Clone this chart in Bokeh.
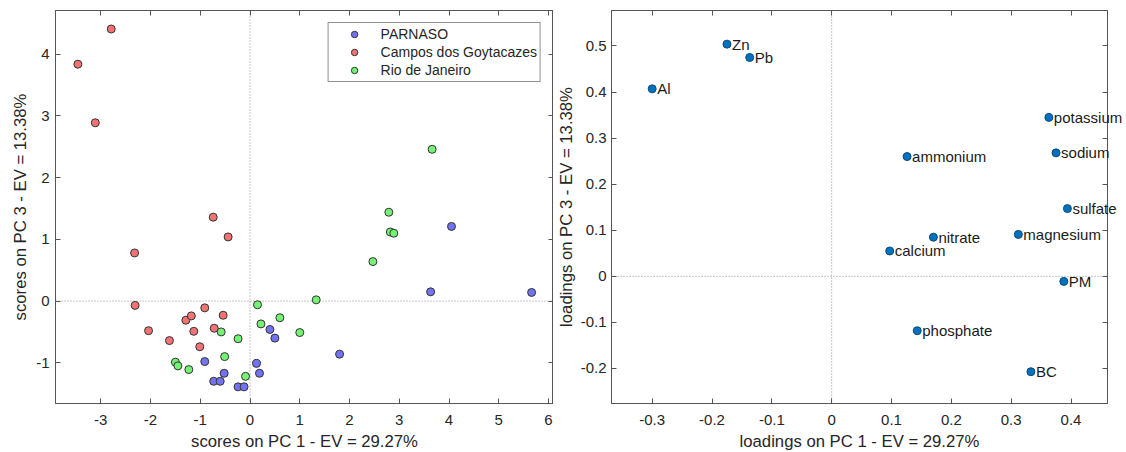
from bokeh.plotting import figure
from bokeh.layouts import row
from bokeh.models import (Range1d, LinearAxis, FixedTicker, PrintfTickFormatter,
                          Span, ColumnDataSource)
from bokeh.core.properties import value
from bokeh.embed import file_html
from bokeh.resources import INLINE

# ---------------- data ----------------
parnaso_x = [4.05, 3.63, 5.66, 1.80, 0.40, 0.50, 0.13, 0.19, -0.91, -0.52, -0.73, -0.60, -0.24, -0.12]
parnaso_y = [1.21, 0.15, 0.14, -0.86, -0.46, -0.60, -1.01, -1.17, -0.98, -1.17, -1.30, -1.30, -1.39, -1.39]

campos_x = [-2.79, -3.46, -3.11, -0.74, -0.44, -2.32, -2.31, -2.04, -1.62, -1.29, -1.18, -0.91, -0.54, -1.13, -0.72, -1.01]
campos_y = [4.41, 3.84, 2.89, 1.36, 1.04, 0.78, -0.07, -0.48, -0.64, -0.31, -0.24, -0.11, -0.23, -0.49, -0.44, -0.74]

rio_x = [3.66, 2.79, 2.82, 2.89, 2.47, 1.33, 0.15, 0.22, 0.60, 1.00, -0.58, -0.24, -0.51, -1.50, -1.45, -1.23, -0.09]
rio_y = [2.46, 1.44, 1.12, 1.10, 0.64, 0.02, -0.06, -0.37, -0.27, -0.51, -0.50, -0.61, -0.90, -0.99, -1.05, -1.11, -1.22]

load_names = ["Al", "Zn", "Pb", "potassium", "sodium", "ammonium", "sulfate", "nitrate",
              "magnesium", "calcium", "PM", "phosphate", "BC"]
load_x = [-0.300, -0.175, -0.137, 0.363, 0.375, 0.126, 0.394, 0.170, 0.312, 0.097, 0.388, 0.143, 0.333]
load_y = [0.407, 0.504, 0.475, 0.345, 0.268, 0.260, 0.147, 0.085, 0.091, 0.055, -0.011, -0.118, -0.207]

scores_xticks = [-3, -2, -1, 0, 1, 2, 3, 4, 5, 6]
scores_yticks = [-1, 0, 1, 2, 3, 4]
load_xticks = [-0.3, -0.2, -0.1, 0, 0.1, 0.2, 0.3, 0.4]
load_yticks = [-0.2, -0.1, 0, 0.1, 0.2, 0.3, 0.4, 0.5]

FONT = "Liberation Sans"
TXT = "#262626"
AX = "#555555"


def style(p, xticks, yticks, xlabel, ylabel, tick_standoff_y, lab_standoff_y):
    p.xaxis.visible = False
    p.yaxis.visible = False
    for loc, ticks, lab in (("below", xticks, xlabel), ("left", yticks, ylabel),
                            ("above", xticks, None), ("right", yticks, None)):
        ax = LinearAxis(ticker=FixedTicker(ticks=ticks),
                        formatter=PrintfTickFormatter(format="%g"))
        ax.major_tick_in = 5
        ax.major_tick_out = 0
        ax.minor_tick_line_color = None
        ax.axis_line_color = AX
        ax.major_tick_line_color = AX
        ax.major_label_text_font = FONT
        ax.major_label_text_color = TXT
        if lab is None:
            ax.major_label_text_font_size = "0px"
            ax.major_label_text_color = None
            ax.major_label_standoff = 0
            ax.axis_label = None
        else:
            ax.major_label_text_font_size = "15px"
            ax.axis_label = lab
            ax.axis_label_text_font = FONT
            ax.axis_label_text_font_size = "16.7px"
            ax.axis_label_text_font_style = "normal"
            ax.axis_label_text_color = TXT
            if loc == "below":
                ax.major_label_standoff = 11
                ax.axis_label_standoff = 4
            else:
                ax.major_label_standoff = tick_standoff_y
                ax.axis_label_standoff = lab_standoff_y
        p.add_layout(ax, loc)
    p.outline_line_color = AX
    p.outline_line_width = 1
    p.grid.visible = False
    p.add_layout(Span(location=0, dimension="height", line_color="#8c8c8c",
                      line_dash="1 2", line_width=1, level="underlay"))
    p.add_layout(Span(location=0, dimension="width", line_color="#8c8c8c",
                      line_dash="1 2", line_width=1, level="underlay"))


# ---------------- scores ----------------
p1 = figure(frame_width=498, frame_height=393,
            x_range=Range1d(-3.91, 6.10), y_range=Range1d(-1.66, 4.71),
            output_backend="svg", toolbar_location=None,
            min_border_left=55, min_border_right=0, min_border_top=10, min_border_bottom=47,
            background_fill_color="white", border_fill_color="white")
style(p1, scores_xticks, scores_yticks,
      "scores on PC 1 - EV = 29.27%", "scores on PC 3 - EV = 13.38%", 6, 3)

p1.scatter(parnaso_x, parnaso_y, marker="circle", size=8, fill_color="#7373F2",
           line_color="#333333", line_width=1, legend_label="PARNASO")
p1.scatter(campos_x, campos_y, marker="circle", size=8, fill_color="#F27373",
           line_color="#333333", line_width=1, legend_label="Campos dos Goytacazes")
p1.scatter(rio_x, rio_y, marker="circle", size=8, fill_color="#73F273",
           line_color="#333333", line_width=1, legend_label="Rio de Janeiro")

lg = p1.legend[0]
lg.location = "top_right"
lg.margin = 12
lg.padding = 3
lg.spacing = 2
lg.glyph_width = 45
lg.glyph_height = 16
lg.label_height = 16
lg.label_standoff = 4
lg.label_text_font = FONT
lg.label_text_font_size = "14px"
lg.label_text_color = TXT
lg.border_line_color = "#262626"
lg.border_line_width = 1
lg.background_fill_color = "white"
lg.background_fill_alpha = 1.0

# ---------------- loadings ----------------
p2 = figure(frame_width=496, frame_height=393,
            x_range=Range1d(-0.368, 0.461), y_range=Range1d(-0.276, 0.577),
            output_backend="svg", toolbar_location=None,
            min_border_left=57, min_border_right=16, min_border_top=10, min_border_bottom=47,
            background_fill_color="white", border_fill_color="white")
style(p2, load_xticks, load_yticks,
      "loadings on PC 1 - EV = 29.27%", "loadings on PC 3 - EV = 13.38%", 5, 2)

src = ColumnDataSource(dict(x=load_x, y=load_y, name=load_names))
p2.scatter("x", "y", source=src, marker="circle", size=8, fill_color="#0072BD",
           line_color="#0b4a7a", line_width=1)
tr = p2.text("x", "y", text="name", source=src, x_offset=5, text_baseline="middle",
             text_align="left", text_font_size="15px", text_color="#1a1a1a",
             text_font=value(FONT))
tr.level = "overlay"

layout = row(p1, p2)
open("out.html", "w").write(file_html(layout, INLINE))
